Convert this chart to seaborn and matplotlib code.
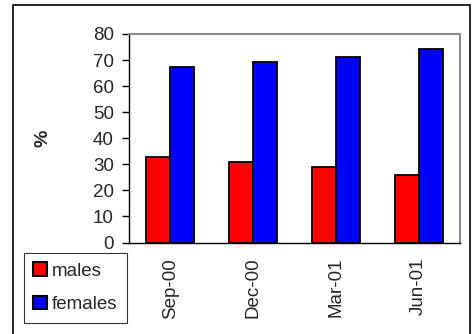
import numpy as np
import pandas as pd
import seaborn as sns
import matplotlib.pyplot as plt
from matplotlib.patches import Rectangle

quarters = ["Sep-00", "Dec-00", "Mar-01", "Jun-01"]
males = [32.8, 30.7, 28.8, 25.8]
females = [67.2, 69.3, 71.2, 74.2]

df = pd.DataFrame({
    "quarter": quarters * 2,
    "pct": males + females,
    "sex": ["males"] * 4 + ["females"] * 4,
})

sns.set_style("white")
plt.rcParams["font.family"] = ["Liberation Sans", "DejaVu Sans"]

fig = plt.figure(figsize=(4.72, 3.34), dpi=100)
ax = fig.add_axes([129 / 472, 1 - 242.5 / 334, 331 / 472, 208.5 / 334])

sns.barplot(data=df, x="quarter", y="pct", hue="sex", order=quarters,
            hue_order=["males", "females"], palette=["#ff0000", "#0000ff"],
            saturation=1, width=0.58, edgecolor="black", linewidth=1.3,
            ax=ax, legend=True)

ax.set_ylim(0, 80)
ax.set_yticks(np.arange(0, 81, 10))
ax.set_xlim(-0.5, 3.5)
ax.set_xticks(range(4))
ax.set_xticklabels(quarters, rotation=90, ha="center", va="top")
ax.set_xticks(np.arange(-0.5, 4, 1), minor=True)
ax.tick_params(axis="x", which="major", length=0, pad=11, labelsize=13.5)
ax.tick_params(axis="x", which="minor", length=5, width=1, direction="out", color="black")
ax.tick_params(axis="y", length=5, width=1, direction="out", color="black",
               labelsize=13.5, pad=6, left=True)
ax.set_xlabel("")
ax.set_ylabel("%", fontsize=14, fontweight="bold", labelpad=30)

for side in ["left", "bottom"]:
    ax.spines[side].set_color("black")
    ax.spines[side].set_linewidth(1)
for side in ["top", "right"]:
    ax.spines[side].set_color("#8c8c8c")
    ax.spines[side].set_linewidth(1.5)

leg = ax.legend(loc="upper left", bbox_to_anchor=(24 / 472, 1 - 253 / 334),
                bbox_transform=fig.transFigure, fontsize=13.5, frameon=True,
                fancybox=False, edgecolor="black", handlelength=0.75,
                handleheight=0.75, handletextpad=0.25, borderpad=0.5,
                labelspacing=0.85, borderaxespad=0)
leg.get_frame().set_linewidth(0.8)
for h in leg.legend_handles:
    h.set_edgecolor("black")
    h.set_linewidth(1.5)

fig.patches.append(Rectangle((13 / 472, -0.05), 457 / 472, 1.05 - 5 / 334,
                             transform=fig.transFigure, fill=False,
                             edgecolor="black", linewidth=1.2))

fig.savefig("out.png", dpi=100)
